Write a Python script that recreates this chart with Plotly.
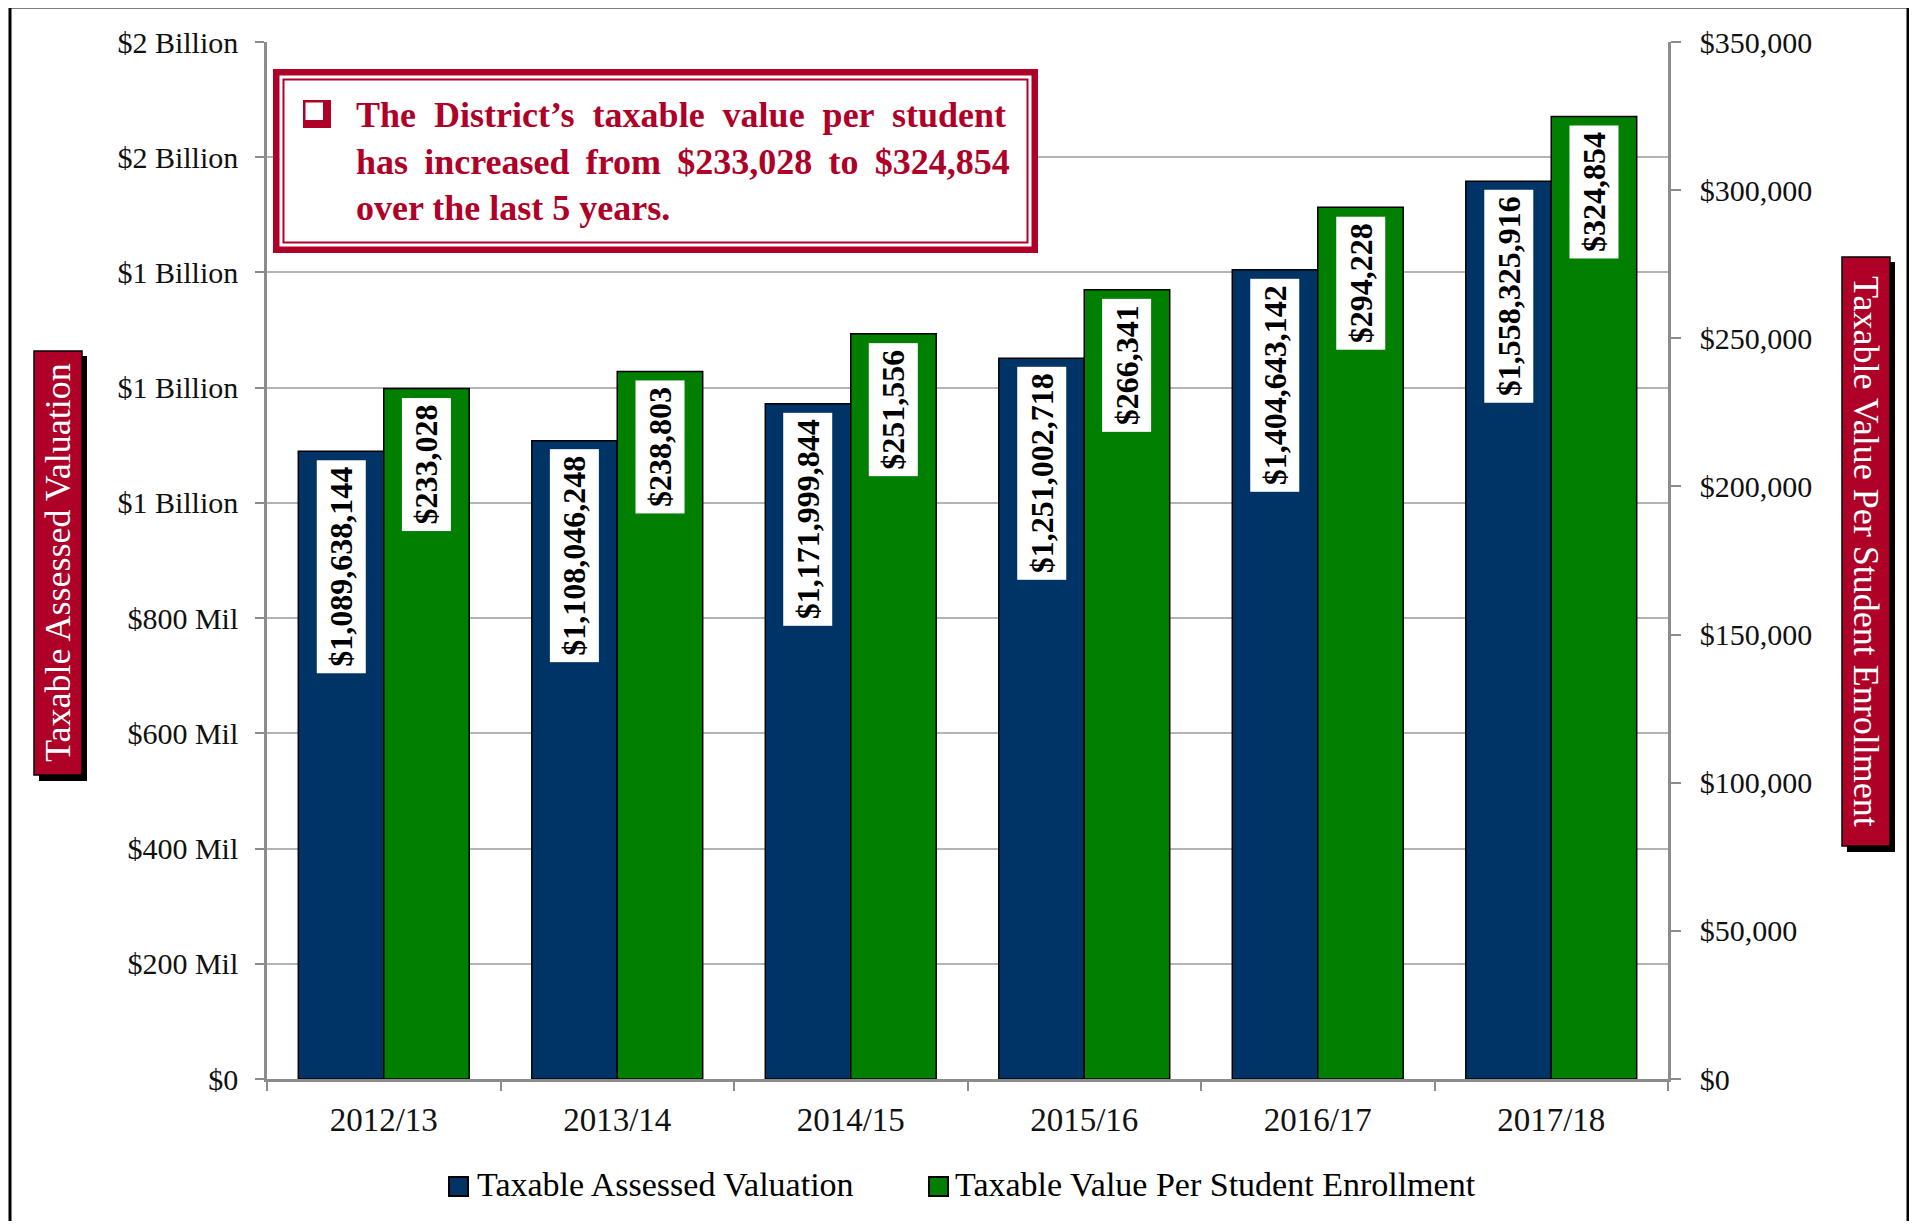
import plotly.graph_objects as go

# ---------------- data ----------------
categories = ["2012/13", "2013/14", "2014/15", "2015/16", "2016/17", "2017/18"]
assessed_valuation = [1089638144, 1108046248, 1171999844, 1251002718, 1404643142, 1558325916]
value_per_student = [233028, 238803, 251556, 266341, 294228, 324854]

series_names = ["Taxable Assessed Valuation", "Taxable Value Per Student Enrollment"]

left_tickvals = [0, 200e6, 400e6, 600e6, 800e6, 1000e6, 1200e6, 1400e6, 1600e6, 1800e6]
left_ticktext = ["$0", "$200 Mil", "$400 Mil", "$600 Mil", "$800 Mil",
                 "$1 Billion", "$1 Billion", "$1 Billion", "$2 Billion", "$2 Billion"]
right_tickvals = [0, 50000, 100000, 150000, 200000, 250000, 300000, 350000]
right_ticktext = ["$0", "$50,000", "$100,000", "$150,000", "$200,000",
                  "$250,000", "$300,000", "$350,000"]

callout_lines = ["The District\u2019s taxable value per student",
                 "has increased from $233,028 to $324,854",
                 "over the last 5 years."]

# ---------------- style ----------------
OFF = 8  # page body margin
W, H = 1917 - 2 * OFF, 1229 - 2 * OFF
ML = 267 - OFF
MT = 42 - OFF
MR = W - (1668 - OFF)
MB = H - (1079 - OFF)
PW, PH = W - ML - MR, H - MT - MB
NAVY = "#003366"
GREEN = "#007F00"
CRIMSON = "#AF0028"
GRID = "#B4B4B4"
AXIS = "#8C8C8C"
SERIF = "Liberation Serif, Times New Roman, serif"
BAR_W = 0.366


def px(x):
    return (x - OFF - ML) / PW


def py(y):
    return (H - MB - (y - OFF)) / PH


fig = go.Figure()
fig.add_trace(go.Bar(
    x=categories, y=assessed_valuation, name=series_names[0],
    offset=-BAR_W, width=BAR_W,
    marker=dict(color=NAVY, line=dict(color="black", width=1.5)),
    yaxis="y", showlegend=False))
fig.add_trace(go.Bar(
    x=categories, y=value_per_student, name=series_names[1],
    offset=0, width=BAR_W,
    marker=dict(color=GREEN, line=dict(color="black", width=1.5)),
    yaxis="y2", showlegend=False))

annotations = []
cat_px = PW / len(categories)
for i, c in enumerate(categories):
    annotations.append(dict(
        x=c, y=assessed_valuation[i], xref="x", yref="y",
        text="${:,}".format(assessed_valuation[i]), textangle=-90,
        xanchor="center", yanchor="top", xshift=-BAR_W * cat_px / 2, yshift=-8.5,
        bgcolor="white", borderpad=6, showarrow=False,
        font=dict(family=SERIF, size=32, color="black", weight="bold")))
    annotations.append(dict(
        x=c, y=value_per_student[i], xref="x", yref="y2",
        text="${:,}".format(value_per_student[i]), textangle=-90,
        xanchor="center", yanchor="top", xshift=BAR_W * cat_px / 2, yshift=-8.5,
        bgcolor="white", borderpad=6, showarrow=False,
        font=dict(family=SERIF, size=32, color="black", weight="bold")))

shapes = []


def rect(x0, y0, x1, y1, fill=None, lc=None, lw=0):
    shapes.append(dict(type="rect", xref="paper", yref="paper",
                       x0=px(x0), x1=px(x1), y0=py(y1), y1=py(y0),
                       fillcolor=fill if fill else "rgba(0,0,0,0)",
                       line=dict(color=lc if lc else "rgba(0,0,0,0)", width=lw),
                       layer="above"))


# outer frame
rect(10, 7, 1908, 1260, None, "black", 3)

# callout box
rect(273, 69, 1038, 253, CRIMSON)
rect(279.5, 75.5, 1031.5, 246.5, "white")
rect(283.5, 79.5, 1027.5, 242.5, "white", CRIMSON, 2)
# bullet square with shadow
rect(303, 100, 331, 128, CRIMSON)
rect(305.5, 102.5, 323, 120, "white")

# axis title boxes
rect(39, 356, 87, 781, "black")
rect(34, 351, 82, 775, CRIMSON, "black", 1.5)
rect(1847, 262, 1895, 852, "black")
rect(1842, 257, 1890, 846, CRIMSON, "black", 1.5)

# legend squares
rect(449, 1177, 468, 1196, NAVY, "black", 2)
rect(929, 1177, 948, 1196, GREEN, "black", 2)

# callout text
NB = "\u00a0"
TH = "\u2009"
line1 = (" " + NB).join(callout_lines[0].split(" "))
line2 = (" " + TH).join(callout_lines[1].split(" "))
line3 = callout_lines[2]
for txt, yc in [(line1, 115.5), (line2, 161.5), (line3, 208)]:
    annotations.append(dict(
        x=px(355), y=py(yc), xref="paper", yref="paper", text=txt,
        xanchor="left", yanchor="middle", showarrow=False, borderpad=0,
        font=dict(family=SERIF, size=36, color=CRIMSON, weight="bold")))

# axis titles
annotations.append(dict(
    x=px(58), y=py(563), xref="paper", yref="paper", text=series_names[0],
    textangle=-90, xanchor="center", yanchor="middle", showarrow=False,
    font=dict(family=SERIF, size=36, color="white")))
annotations.append(dict(
    x=px(1866), y=py(551), xref="paper", yref="paper", text=series_names[1],
    textangle=90, xanchor="center", yanchor="middle", showarrow=False,
    font=dict(family=SERIF, size=36, color="white")))

# legend texts
annotations.append(dict(
    x=px(476), y=py(1184), xref="paper", yref="paper", text=series_names[0],
    xanchor="left", yanchor="middle", showarrow=False, borderpad=0,
    font=dict(family=SERIF, size=34, color="black")))
annotations.append(dict(
    x=px(954), y=py(1184), xref="paper", yref="paper", text=series_names[1],
    xanchor="left", yanchor="middle", showarrow=False, borderpad=0,
    font=dict(family=SERIF, size=34, color="black")))

fig.update_layout(
    width=W, height=H,
    margin=dict(l=ML, r=MR, t=MT, b=MB, pad=0),
    paper_bgcolor="white", plot_bgcolor="white",
    showlegend=False,
    font=dict(family=SERIF, color="black"),
    xaxis=dict(type="category", range=[-0.5, 5.5], showgrid=False,
               showline=True, linecolor=AXIS, linewidth=3,
               ticks="outside", tickson="boundaries", ticklen=9, tickcolor=AXIS, tickwidth=2,
               tickfont=dict(family=SERIF, size=33, color="#111111"),
               ticklabelstandoff=9, fixedrange=True),
    yaxis=dict(range=[0, 1.8e9], tickvals=left_tickvals, ticktext=left_ticktext,
               showgrid=True, gridcolor=GRID, gridwidth=1.5, zeroline=False,
               showline=True, linecolor=AXIS, linewidth=2.5,
               ticks="outside", ticklen=9, tickcolor=AXIS, tickwidth=2,
               tickfont=dict(family=SERIF, size=30, color="#111111"),
               ticklabelstandoff=11),
    yaxis2=dict(range=[0, 350000], tickvals=right_tickvals, ticktext=right_ticktext,
                overlaying="y", side="right", showgrid=False, zeroline=False,
                showline=True, linecolor=AXIS, linewidth=2.5,
                ticks="outside", ticklen=10, tickcolor=AXIS, tickwidth=2,
                tickfont=dict(family=SERIF, size=30, color="#111111"),
                ticklabelstandoff=13),
    shapes=shapes,
    annotations=annotations,
)

fig.write_html("out.html")
